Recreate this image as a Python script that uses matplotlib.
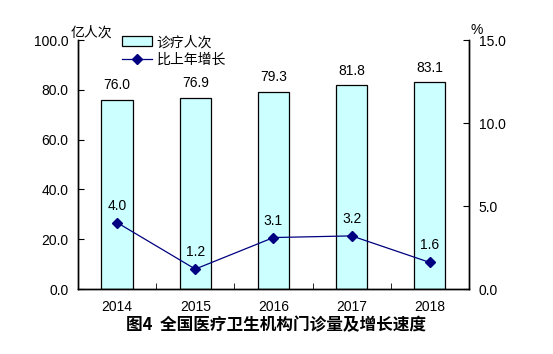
import numpy as np
import matplotlib
matplotlib.use("Agg")
import matplotlib.pyplot as plt
from matplotlib.ticker import FixedLocator

plt.rcParams['font.family'] = ['Liberation Sans', 'Noto Sans CJK SC', 'DejaVu Sans']

# 数据
years = ['2014', '2015', '2016', '2017', '2018']
visits = [76.0, 76.9, 79.3, 81.8, 83.1]   # 亿人次
growth = [4.0, 1.2, 3.1, 3.2, 1.6]        # %

fig = plt.figure(figsize=(5.53, 3.54), dpi=100)
ax = fig.add_axes([0.141, 0.1836, 0.707, 0.7034])
ax2 = ax.twinx()

x = np.arange(len(years))
bars = ax.bar(x, visits, width=0.4, color='#CCFFFF', edgecolor='black',
              linewidth=0.9, label='诊疗人次', zorder=2)
for xi, v in zip(x, visits):
    ax.text(xi, v + 3, f'{v:.1f}', ha='center', va='bottom', fontsize=10)

ax.set_xlim(-0.5, len(years) - 0.5)
ax.set_ylim(0, 100)
ax.set_yticks(np.arange(0, 101, 20))
ax.set_yticklabels([f'{t:.1f}' for t in np.arange(0, 101, 20)], fontsize=10)
ax.set_xticks(x)
ax.set_xticklabels(years, fontsize=10)
ax.tick_params(axis='x', which='major', length=0, pad=8)
ax.xaxis.set_minor_locator(FixedLocator(np.arange(-0.5, len(years), 1)))
ax.tick_params(axis='x', which='minor', direction='in', length=4)
ax.tick_params(axis='y', direction='in', length=4, pad=7)

line, = ax2.plot(x, growth, color='#000080', marker='D', markersize=5,
                 linewidth=0.9, label='比上年增长', zorder=3)
for xi, g in zip(x, growth):
    ax2.text(xi, g + 0.6, f'{g:.1f}', ha='center', va='bottom', fontsize=10)
ax2.set_ylim(0, 15)
ax2.set_yticks(np.arange(0, 16, 5))
ax2.set_yticklabels([f'{t:.1f}' for t in np.arange(0, 16, 5)], fontsize=10)
ax2.tick_params(axis='y', direction='in', length=4, pad=7)

for a in (ax, ax2):
    a.spines['top'].set_visible(False)
    for s in ('left', 'right', 'bottom'):
        a.spines[s].set_linewidth(1.0)

fig.text(0.127, 0.888, '亿人次', fontsize=10, ha='left', va='bottom',
         family=['Noto Sans CJK SC'])
fig.text(0.862, 0.895, '%', fontsize=10, ha='center', va='bottom')

ax.legend([bars, line], ['诊疗人次', '比上年增长'], loc='upper left',
          bbox_to_anchor=(0.08, 1.07), frameon=False,
          prop={'family': ['Noto Sans CJK SC'], 'size': 10},
          handlelength=2.2, handletextpad=0.3, labelspacing=0.25)

fig.text(0.5, 0.055, '图4  全国医疗卫生机构门诊量及增长速度', ha='center',
         va='bottom', fontsize=12, fontweight='bold',
         family=['Noto Sans CJK SC'])

fig.savefig('out.png', dpi=100)
